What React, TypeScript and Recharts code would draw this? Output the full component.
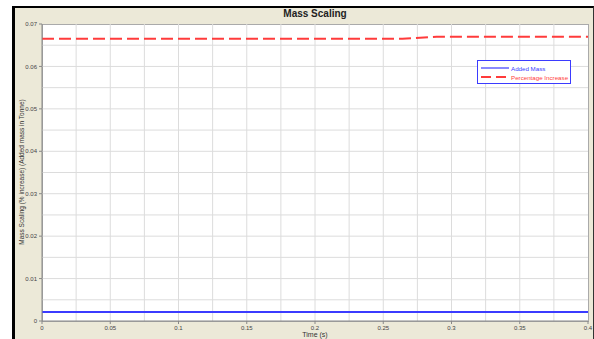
import React from 'react';
import { LineChart, Line, XAxis, YAxis, ReferenceLine } from 'recharts';

// time (s) and the two series
const times = [0, 0.264, 0.289, 0.4];
const addedMass = [0.0021, 0.0021, 0.0021, 0.0021];
const percentageIncrease = [0.0665, 0.0665, 0.067, 0.067];

const xTicks = [0, 0.05, 0.1, 0.15, 0.2, 0.25, 0.3, 0.35, 0.4];
const yTicks = [0, 0.01, 0.02, 0.03, 0.04, 0.05, 0.06, 0.07];
const xGridTicks = [0.025, 0.05, 0.075, 0.1, 0.125, 0.15, 0.175, 0.2, 0.225, 0.25, 0.275, 0.3, 0.325, 0.35, 0.375];
const yGridTicks = [0.005, 0.01, 0.015, 0.02, 0.025, 0.03, 0.035, 0.04, 0.045, 0.05, 0.055, 0.06, 0.065];

const seriesNames = ['Added Mass', 'Percentage Increase'];
const seriesColors = ['#3b3bff', '#ff3b3b'];

const data = times.map((t, i) => ({
  time: t,
  added: addedMass[i],
  pct: percentageIncrease[i],
}));

const FONT = '"Liberation Sans", Arial, sans-serif';
const tickStyle = { fill: '#444', fontSize: 6, fontFamily: FONT };
const GRID = '#dcdcdc';

export default function App() {
  return (
    <div style={{ position: 'fixed', left: 0, top: 0, width: 594, height: 339, background: '#fff', overflow: 'hidden' }}>
      {/* beige frame */}
      <div
        style={{
          position: 'absolute',
          left: 12,
          top: 6,
          width: 578,
          height: 340,
          background: '#ECE9D8',
          borderLeft: '3px solid #000',
          borderTop: '2px solid #000',
          borderRight: '1px solid #333',
        }}
      />
      {/* plot background */}
      <div
        style={{
          position: 'absolute',
          left: 42,
          top: 24,
          width: 545,
          height: 296,
          background: '#fff',
          border: '1px solid #aaa',
        }}
      />
      <div
        style={{
          position: 'absolute',
          left: 42,
          width: 546,
          top: 8,
          textAlign: 'center',
          fontFamily: FONT,
          fontWeight: 'bold',
          fontSize: 10,
          color: '#222',
        }}
      >
        Mass Scaling
      </div>
      <div
        style={{
          position: 'absolute',
          left: 22 - 100,
          top: 172 - 5,
          width: 200,
          height: 10,
          lineHeight: '10px',
          textAlign: 'center',
          transform: 'rotate(-90deg)',
          fontFamily: FONT,
          fontSize: 6.5,
          color: '#333',
          whiteSpace: 'nowrap',
        }}
      >
        Mass Scaling (% increase) (Added mass in Tonne)
      </div>
      <div style={{ position: 'absolute', left: 0, top: 0 }}>
        <LineChart width={594} height={339} data={data} margin={{ top: 24, right: 6, bottom: 0, left: 0 }}>
          <XAxis
            dataKey="time"
            type="number"
            domain={[0, 0.4]}
            ticks={xTicks}
            height={18}
            tick={tickStyle}
            tickSize={3}
            tickMargin={2}
            stroke="#888"
            interval={0}
            label={{ value: 'Time (s)', position: 'insideBottom', offset: 2, fill: '#333', fontSize: 7, fontFamily: FONT }}
          />
          <YAxis
            type="number"
            domain={[0, 0.07]}
            ticks={yTicks}
            width={42}
            tick={tickStyle}
            tickSize={3}
            tickMargin={2}
            stroke="#888"
            interval={0}
          />
          {xGridTicks.map((t) => (
            <ReferenceLine key={'x' + t} x={t} stroke={GRID} strokeWidth={1} />
          ))}
          {yGridTicks.map((t) => (
            <ReferenceLine key={'y' + t} y={t} stroke={GRID} strokeWidth={1} />
          ))}
          <Line
            dataKey="added"
            name={seriesNames[0]}
            stroke={seriesColors[0]}
            strokeWidth={2}
            dot={false}
            type="linear"
            isAnimationActive={false}
          />
          <Line
            dataKey="pct"
            name={seriesNames[1]}
            stroke={seriesColors[1]}
            strokeWidth={2}
            strokeDasharray="12 5"
            dot={false}
            type="linear"
            isAnimationActive={false}
          />
        </LineChart>
      </div>
      {/* legend */}
      <div
        style={{
          position: 'absolute',
          left: 477,
          top: 60,
          width: 92,
          height: 22,
          border: '1px solid #3b3bff',
          background: '#fff',
          fontFamily: FONT,
          fontSize: 6.2,
        }}
      >
        {seriesNames.map((name, i) => (
          <div key={name} style={{ position: 'absolute', left: 3, top: 3 + i * 9, height: 8, display: 'flex', alignItems: 'center' }}>
            <svg width={28} height={4} style={{ marginRight: 2 }}>
              <line
                x1={0}
                y1={2}
                x2={28}
                y2={2}
                stroke={seriesColors[i]}
                strokeWidth={i === 0 ? 1.2 : 2}
                strokeDasharray={i === 1 ? '10 5' : undefined}
              />
            </svg>
            <span style={{ color: seriesColors[i], whiteSpace: 'nowrap' }}>{name}</span>
          </div>
        ))}
      </div>
    </div>
  );
}
